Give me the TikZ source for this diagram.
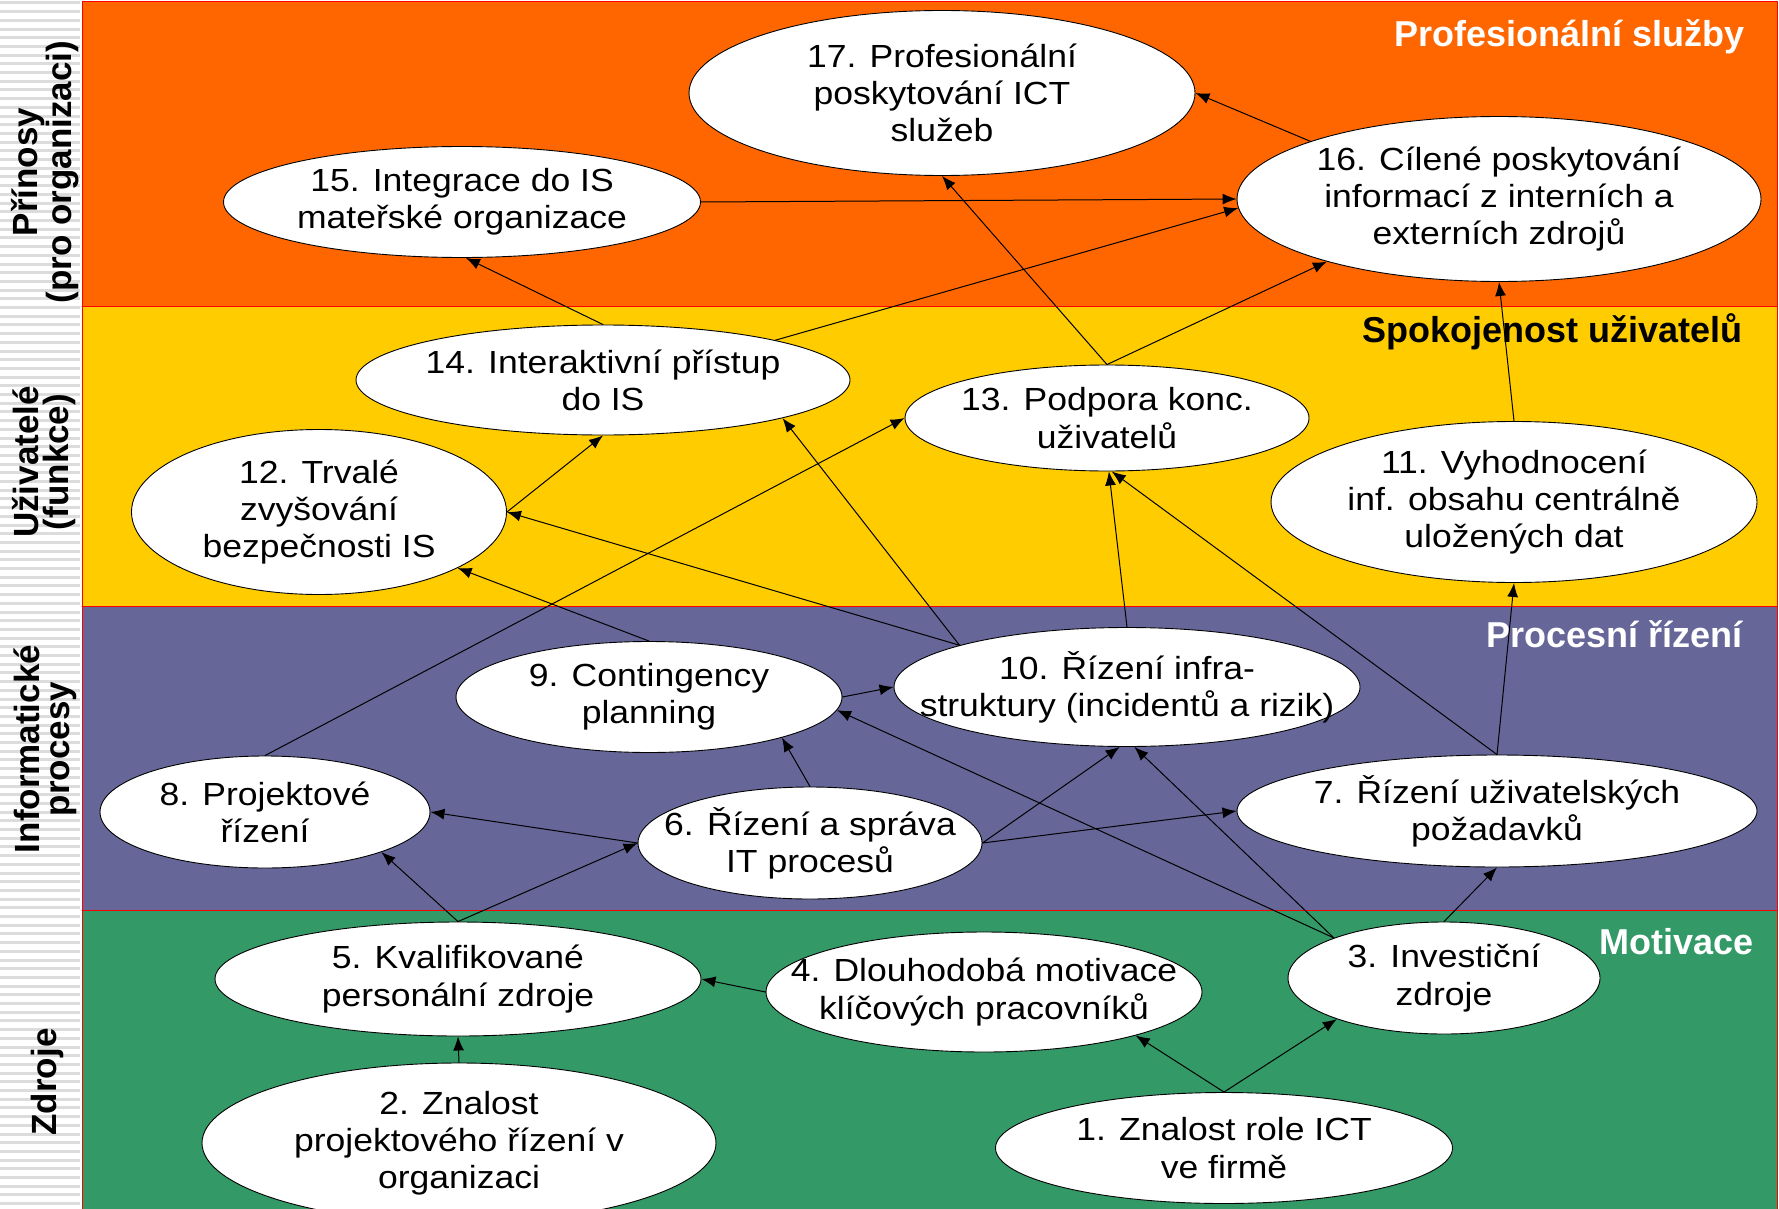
\documentclass[tikz,border=0pt]{standalone}
\usepackage{fontspec}
\setmainfont{Liberation Sans}
\newfontfamily\ovalfont{Liberation Sans}[FakeStretch=1.11]
\usetikzlibrary{shapes.geometric, arrows.meta, positioning}

\definecolor{pasoranz}{HTML}{FF6600}
\definecolor{paszluta}{HTML}{FFCC00}
\definecolor{pasfialova}{HTML}{666699}
\definecolor{paszelena}{HTML}{339966}
\definecolor{pruhy}{HTML}{DCDCDC}

\begin{document}
\begin{tikzpicture}[x=1pt, y=-1pt, line cap=round, line join=round,
	ovalnode/.style={ellipse, draw=black, line width=0.9pt, fill=white, inner sep=-60pt,
		align=center, font=\ovalfont\fontsize{32}{37.2}\selectfont,
		execute at begin node={\rule{0pt}{33pt}}},
	sipka/.style={-{Latex[length=14pt,width=11pt]}, line width=1pt},
	pasmotext/.style={anchor=base east, inner sep=0pt, font=\fontsize{36}{40}\selectfont\bfseries},
	stranatext/.style={rotate=90, align=center, inner sep=0pt, font=\fontsize{35}{30}\selectfont\bfseries}]
	
	% Parametry pasem
	\def\xL{82}     % levy okraj pasem
	\def\xR{1777}   % pravy okraj pasem
	\def\yA{2}      % horni okraj
	\def\yB{306}    % prinosy / uzivatele
	\def\yC{606}    % uzivatele / procesy
	\def\yD{910}    % procesy / zdroje
	\def\yE{1209}   % spodni okraj
	
	\useasboundingbox (0,0) rectangle (1779,1209);
	
	% --- Pruhovany levy sloupec ---
	\fill[white] (0,0) rectangle (\xL,1209);
	\foreach \y in {3,11.7,...,1209}
		\draw[pruhy, line width=3pt, line cap=butt] (0,\y) -- (\xL-2,\y);
	
	% --- Pasma ---
	\fill[pasoranz]   (\xL,\yA) rectangle (\xR,\yB);
	\fill[paszluta]   (\xL,\yB) rectangle (\xR,\yC);
	\fill[pasfialova] (\xL,\yC) rectangle (\xR,\yD);
	\fill[paszelena]  (\xL,\yD) rectangle (\xR,\yE);
	\draw[red, line width=1pt] (\xL,\yA) rectangle (\xR,\yE);
	\draw[red, line width=1pt] (\xL,\yB) -- (\xR,\yB);
	\draw[red, line width=1pt] (\xL,\yC) -- (\xR,\yC);
	\draw[red, line width=1pt] (\xL,\yD) -- (\xR,\yD);
	
	% --- Popisky pasem ---
	\node[pasmotext, white] (lprof)  at (1745,47)  {Profesionální služby};
	\node[pasmotext, black] (lspok)  at (1743,342) {Spokojenost uživatelů};
	\node[pasmotext, white] (lproc)  at (1743,647) {Procesní řízení};
	\node[pasmotext, white] (lmotiv) at (1754,954) {Motivace};
	
	\node[stranatext] (sprinosy)  at (45,172)  {Přínosy\\(pro organizaci)};
	\node[stranatext] (suziv)     at (44,462)  {Uživatelé\\(funkce)};
	\node[stranatext] (sprocesy)  at (45,749)  {Informatické\\procesy};
	\node[stranatext] (szdroje)   at (47,1082) {Zdroje};
	
	% --- Uzly ---
	\node[ovalnode, minimum width=506pt, minimum height=165pt] (n17) at (942,93)    {17. Profesionální\\poskytování ICT\\služeb};
	\node[ovalnode, minimum width=524pt, minimum height=165pt] (n16) at (1499,199)  {16. Cílené poskytování\\informací z interních a\\externích zdrojů};
	\node[ovalnode, minimum width=477pt, minimum height=111pt] (n15) at (462,202)   {15. Integrace do IS\\mateřské organizace};
	\node[ovalnode, minimum width=494pt, minimum height=110pt] (n14) at (603,380)   {14. Interaktivní přístup\\do IS};
	\node[ovalnode, minimum width=404pt, minimum height=106pt] (n13) at (1107,418)  {13. Podpora konc.\\uživatelů};
	\node[ovalnode, minimum width=375pt, minimum height=165pt] (n12) at (319,512)   {12. Trvalé\\zvyšování\\bezpečnosti IS};
	\node[ovalnode, minimum width=486pt, minimum height=161pt] (n11) at (1514,502)  {11. Vyhodnocení\\inf. obsahu centrálně\\uložených dat};
	\node[ovalnode, minimum width=466pt, minimum height=119pt] (n10) at (1127,687)  {10. Řízení infra-\\struktury (incidentů a rizik)};
	\node[ovalnode, minimum width=386pt, minimum height=111pt] (n9)  at (649,697)   {9. Contingency\\planning};
	\node[ovalnode, minimum width=330pt, minimum height=112pt] (n8)  at (265,812)   {8. Projektové\\řízení};
	\node[ovalnode, minimum width=520pt, minimum height=112pt] (n7)  at (1497,811)  {7. Řízení uživatelských\\požadavků};
	\node[ovalnode, minimum width=344pt, minimum height=112pt] (n6)  at (810,843)   {6. Řízení a správa\\IT procesů};
	\node[ovalnode, minimum width=486pt, minimum height=114pt] (n5)  at (458,979)   {5. Kvalifikované\\personální zdroje};
	\node[ovalnode, minimum width=436pt, minimum height=120pt] (n4)  at (984,992)   {4. Dlouhodobá motivace\\klíčových pracovníků};
	\node[ovalnode, minimum width=312pt, minimum height=112pt] (n3)  at (1444,978)  {3. Investiční\\zdroje};
	\node[ovalnode, minimum width=514pt, minimum height=160pt] (n2)  at (459,1143)  {2. Znalost\\projektového řízení v\\organizaci};
	\node[ovalnode, minimum width=457pt, minimum height=111pt] (n1)  at (1224,1148) {1. Znalost role ICT\\ve firmě};
	
	% --- Vazby ---
	% zdroje
	\draw[sipka] (n1.north) -- (n4.-16);
	\draw[sipka] (n1.north) -- (n3.201);
	\draw[sipka] (n2.north) -- (n5.south);
	\draw[sipka] (n4.west) -- (n5.east);
	\draw[sipka] (n5.north) -- (n8.-19);
	\draw[sipka] (n5.north) -- (n6.west);
	\draw[sipka] (n3.160) -- (n9.-4);
	\draw[sipka] (n3.160) -- (n10.-83);
	\draw[sipka] (n3.north) -- (n7.south);
	
	% procesy
	\draw[sipka] (n6.west) -- (n8.east);
	\draw[sipka] (n6.north) -- (n9.-17);
	\draw[sipka] (n6.east) -- (n10.-97);
	\draw[sipka] (n6.east) -- (n7.west);
	\draw[sipka] (n9.east) -- (n10.west);
	\draw[sipka] (n8.north) -- (n13.west);
	\draw[sipka] (n9.north) -- (n12.-22);
	\draw[sipka] (n10.166) -- (n12.east);
	\draw[sipka] (n10.166) -- (n14.-12);
	\draw[sipka] (n10.north) -- (n13.-88);
	\draw[sipka] (n7.north) -- (n13.-85);
	\draw[sipka] (n7.north) -- (n11.south);
	
	% uzivatele a prinosy
	\draw[sipka] (n12.east) -- (n14.south);
	\draw[sipka] (n11.north) -- (n16.south);
	\draw[sipka] (n13.north) -- (n17.south);
	\draw[sipka] (n13.north) -- (n16.200);
	\draw[sipka] (n14.north) -- (n15.-86);
	\draw[sipka] (n14.13) -- (n16.182);
	\draw[sipka] (n15.east) -- (n16.west);
	\draw[sipka] (n16.163) -- (n17.east);
	
\end{tikzpicture}
\end{document}
